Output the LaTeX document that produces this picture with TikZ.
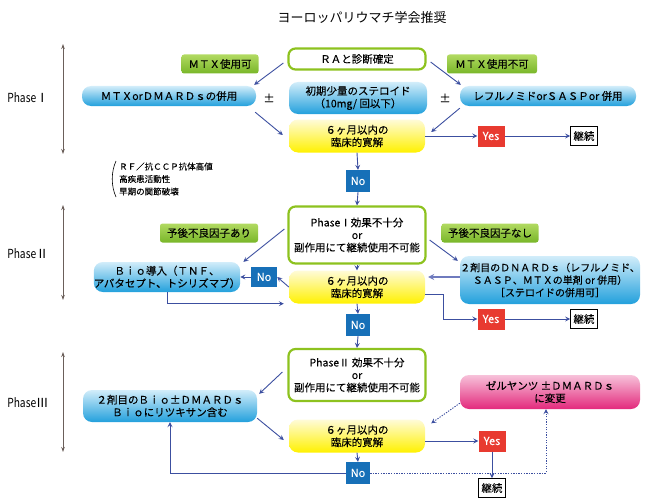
\documentclass[tikz,border=0pt]{standalone}
\usepackage{fontspec}
\setmainfont{Noto Sans CJK JP}[FakeBold=0.12]
\newfontfamily\titlefont{Noto Sans CJK JP}
\usetikzlibrary{arrows.meta,calc}
\definecolor{tagtop}{HTML}{B2DA62}
\definecolor{tagbot}{HTML}{78B628}
\definecolor{blutop}{HTML}{D2EDFA}
\definecolor{blumid}{HTML}{3AAAE2}
\definecolor{blubot}{HTML}{22A0DC}
\definecolor{yeltop}{HTML}{FFFBD8}
\definecolor{yelmid}{HTML}{FFF33C}
\definecolor{yelbot}{HTML}{FFF100}
\definecolor{pinktop}{HTML}{F7C2DA}
\definecolor{pinkmid}{HTML}{E8468E}
\definecolor{pinkbot}{HTML}{E3297C}
\definecolor{gborder}{HTML}{8DC21F}
\definecolor{yesred}{HTML}{E83A30}
\definecolor{noblue}{HTML}{1770B8}
\definecolor{arrcol}{HTML}{3C4FA0}
\definecolor{thickarr}{HTML}{6F7BBE}
\definecolor{phcol}{HTML}{6B5F5A}
\begin{document}
\begin{tikzpicture}[x=1pt,y=-1pt]
\tikzset{
 base/.style={inner sep=0pt, align=center, font=\fontsize{10.5}{12.5}\selectfont},
 tag/.style={base, rounded corners=2.5pt, top color=tagtop, bottom color=tagbot, minimum height=19pt},
 blu/.style={base, rounded corners=9pt, top color=blutop, middle color=blumid, bottom color=blubot},
 yel/.style={base, rounded corners=9pt, top color=yeltop, middle color=yelmid, bottom color=yelbot, minimum width=136pt, minimum height=33pt},
 pinkb/.style={base, rounded corners=9pt, top color=pinktop, middle color=pinkmid, bottom color=pinkbot},
 gbox/.style={base, draw=gborder, line width=2.2pt, rounded corners=7pt, fill=white, minimum width=137pt},
 yesb/.style={base, fill=yesred, text=white, minimum width=27pt, minimum height=21pt, font=\fontsize{11}{13}\selectfont},
 nob/.style={base, fill=noblue, text=white, minimum width=24pt, minimum height=22pt, font=\fontsize{11}{13}\selectfont},
 cont/.style={base, draw=black, line width=0.8pt, fill=white, minimum width=27pt, minimum height=19pt, font=\fontsize{10.5}{12}\selectfont},
 arr/.style={draw=arrcol, line width=0.9pt, -{Stealth[length=5pt,width=5pt,inset=2pt]}},
 darr/.style={arr, dash pattern=on 1.3pt off 1.3pt},
 pharr/.style={draw=phcol, line width=0.8pt, {Stealth[length=5pt,width=3.5pt]}-{Stealth[length=5pt,width=3.5pt]}},
 phlab/.style={inner sep=0pt, font=\titlefont\fontsize{12.5}{14}\selectfont},
}
\useasboundingbox (0,0) rectangle (656,503);

% title
\node[inner sep=0pt, font=\titlefont\fontsize{13}{15}\selectfont] (title) at (362,18) {ヨーロッパリウマチ学会推奨};

% phase arrows and labels
\coordinate (p1t) at (63,44); \coordinate (p1b) at (63,154);
\coordinate (p2t) at (63,205); \coordinate (p2b) at (63,300);
\coordinate (p3t) at (63,352); \coordinate (p3b) at (63,452);
\draw[pharr] (p1t) -- (p1b);
\draw[pharr] (p2t) -- (p2b);
\draw[pharr] (p3t) -- (p3b);
\node[phlab] (ph1) at (28,98) {\scalebox{0.82}[1]{Phase}Ⅰ};
\node[phlab] (ph2) at (28,254) {\scalebox{0.82}[1]{Phase}Ⅱ};
\node[phlab] (ph3) at (28,403) {\scalebox{0.82}[1]{Phase}Ⅲ};

% Phase I
\node[gbox, minimum height=21pt] (ra) at (357,59) {ＲＡと診断確定};
\node[tag, minimum width=77pt] (mtxok) at (220,64) {ＭＴＸ使用可};
\node[tag, minimum width=90pt] (mtxng) at (492,64) {ＭＴＸ使用不可};
\node[blu, minimum width=174pt, minimum height=20pt] (comb) at (169,96) {ＭＴＸorＤＭＡＲＤｓの併用};
\node[inner sep=0pt, font=\fontsize{11}{13}\selectfont] (pm1) at (269,98) {±};
\node[blu, minimum width=138pt, minimum height=32pt] (ster) at (358,98) {初期少量のステロイド\\（10mg/ 回以下）};
\node[inner sep=0pt, font=\fontsize{11}{13}\selectfont] (pm2) at (445,98) {±};
\node[blu, minimum width=176pt, minimum height=20pt] (lef) at (548,96) {レフルノミドorＳＡＳＰor 併用};
\node[yel] (y1) at (357,136) {６ヶ月以内の\\臨床的寛解};
\node[yesb] (yes1) at (491,136) {Yes};
\node[cont] (cont1) at (584,136) {継続};
\node[nob] (no1) at (358,181) {No};

\draw[arr] ($(ra.west)+(-4,4)$) -- ($(comb.north east)+(-2,-1)$);
\draw[arr] ($(comb.south east)+(-1,6)$) -- ($(y1.west)+(-6,-1)$);
\draw[arr] ($(ra.east)+(4,3)$) -- ($(lef.north west)+(1,-1)$);
\draw[arr] ($(lef.south west)+(0,2)$) -- ($(y1.east)+(6,-4)$);
\draw[arr] (y1.east) -- (yes1.west);
\draw[arr] (yes1.east) -- (cont1.west);
\draw[arr] (y1.south) -- (no1.north);

% risk notes
\node[anchor=west, align=left, inner sep=0pt, font=\fontsize{8.5}{12.5}\selectfont] (notes) at (119,179) {ＲＦ／抗ＣＣＰ抗体高値\\高疾患活動性\\早期の関節破壊};
\draw[line width=0.6pt] (116,161) .. controls (111,172) and (111,186) .. (116,197);

% Phase II
\node[gbox, minimum height=57pt] (p1box) at (357,235) {PhaseⅠ効果不十分\\or\\副作用にて継続使用不可能};
\node[tag, minimum width=98pt] (poor) at (209,233) {予後不良因子あり};
\node[tag, minimum width=97pt] (good) at (490,233) {予後不良因子なし};
\node[blu, minimum width=138pt, minimum height=30pt] (bio) at (167,277) {Ｂｉｏ導入（ＴＮＦ、\\アバタセプト、トシリズマブ）};
\node[nob, minimum width=26pt, minimum height=20pt] (nol) at (264,277) {No};
\node[yel] (y2) at (357,287) {６ヶ月以内の\\臨床的寛解};
\node[blu, minimum width=180pt, minimum height=48pt, font=\fontsize{10}{12.5}\selectfont] (dm2) at (550,280) {２剤目のＤＮＡＲＤｓ（レフルノミド、\\ＳＡＳＰ、ＭＴＸの単剤 or 併用）\\［ステロイドの併用可］};
\node[yesb] (yes2) at (491,319) {Yes};
\node[cont] (cont2) at (584,319) {継続};
\node[nob] (no2) at (358,325) {No};

\draw[arr] (no1.south) -- (p1box.north);
\draw[arr] ($(p1box.west)+(-3,-6)$) -- ($(bio.north east)+(3,0)$);
\draw[arr] ($(p1box.east)+(3,5)$) -- ($(dm2.north west)+(-2,5)$);
\draw[arr] (p1box.south) -- (y2.north);
\draw[arr] (y2.west) -- (nol.east);
\draw[arr] (nol.west) -- (bio.east);
\coordinate (bioin) at ($(y2.south west)+(-5,0)$);
\draw[arr] (bio.south) |- (bioin);
\draw[draw=thickarr, line width=1.8pt, -{Stealth[length=6pt,width=6pt,inset=2pt]}] ($(dm2.west)+(0,-3)$) -- ($(y2.east)+(3,-10)$);
\draw[arr] ($(y2.east)+(0,7)$) -- ++(18,0) |- (yes2.west);
\draw[arr] (yes2.east) -- (cont2.west);
\draw[arr] (y2.south) -- (no2.north);

% Phase III
\node[gbox, minimum height=52pt] (p2box) at (357,375) {PhaseⅡ 効果不十分\\or\\副作用にて継続使用不可能};
\node[blu, minimum width=174pt, minimum height=32pt] (bio2) at (170,406) {２剤目のＢｉｏ±ＤＭＡＲＤｓ\\Ｂｉｏにリツキサン含む};
\node[pinkb, minimum width=180pt, minimum height=34pt] (zel) at (550,392) {ゼルヤンツ ±ＤＭＡＲＤｓ\\に変更};
\node[yel] (y3) at (357,436) {６ヶ月以内の\\臨床的寛解};
\node[yesb] (yes3) at (492,441) {Yes};
\node[nob] (no3) at (358,473) {No};
\node[cont] (cont3) at (492,488) {継続};

\draw[arr] (no2.south) -- (p2box.north);
\draw[arr] ($(p2box.west)+(-5,-3)$) -- ($(bio2.north east)+(2,4)$);
\draw[arr] ($(bio2.south east)+(0,-4)$) -- ($(y3.west)+(-5,4)$);
\draw[darr] ($(zel.south west)+(0,-6)$) -- ($(y3.north east)+(6,4)$);
\draw[arr] ($(y3.east)+(0,5)$) -- ($(yes3.west)+(0,0)$);
\draw[arr] (yes3.south) -- (cont3.north);
\draw[arr] (y3.south) -- (no3.north);
\draw[arr] (no3.west) -| (bio2.south);
\draw[darr] (no3.east) -| ($(zel.south)+(-4,0)$);
\end{tikzpicture}
\end{document}
